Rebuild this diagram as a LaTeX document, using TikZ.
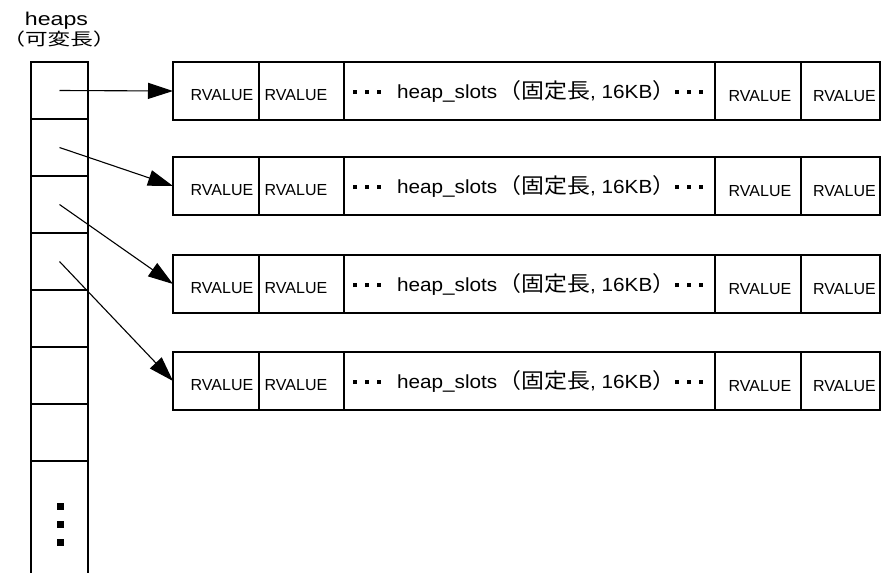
\documentclass[tikz,border=0pt]{standalone}
\usepackage{graphicx}
\usepackage{fontspec}
\setmainfont{Liberation Sans}
\newfontfamily\cjk{Noto Sans CJK JP}
\usetikzlibrary{arrows.meta}
\newcommand\sqdot{\rule[4.3pt]{3.8pt}{3.8pt}}
\newcommand\sqdots{\sqdot\hspace{7pt}\sqdot\hspace{7pt}\sqdot}
\begin{document}
\begin{tikzpicture}[x=1pt,y=-1pt, line width=1.1pt,
 cellbox/.style={draw, minimum width=57pt, minimum height=57pt, inner sep=0pt, outer sep=0pt},
 slot/.style={draw, minimum height=58pt, inner sep=0pt, outer sep=0pt},
 rv/.style={font=\fontsize{16}{16}\selectfont, inner sep=0pt, anchor=base},
 mid/.style={font=\fontsize{19}{19}\selectfont, inner sep=0pt, anchor=base},
 ttl/.style={font=\fontsize{18.5}{18.5}\selectfont, inner sep=0pt},
 ptr/.style={-{Triangle[length=25pt,width=16pt]}},
 dotsq/.style={fill=black}]
\useasboundingbox (0,0) rectangle (892,573);
% title
\node[ttl, anchor=base] (t1) at (56.5,25) {\resizebox{63pt}{\height}{heaps}};
\node[ttl] (t2) at (59,39.5) {\resizebox{113pt}{\height}{\cjk\fontsize{17}{17}\selectfont （可変長）}};
% heaps column
\draw (31,62) -- (31,573) (88,62) -- (88,573);
\foreach \k in {1,...,7}{
  \node[cellbox] (c\k) at (59.5,{33.5+57*\k}) {};
}
\fill[dotsq] (57,503) rectangle (64,510);
\fill[dotsq] (57,521) rectangle (64,528);
\fill[dotsq] (57,539) rectangle (64,546);
% rows
\foreach \i/\y in {1/91,2/186,3/284,4/381}{
  \node[slot, minimum width=86pt] (r\i a) at (216,\y) {};
  \node[slot, minimum width=85pt] (r\i b) at (301.5,\y) {};
  \node[slot, minimum width=371pt] (r\i c) at (529.5,\y) {};
  \node[slot, minimum width=86pt] (r\i d) at (758,\y) {};
  \node[slot, minimum width=79pt] (r\i e) at (840.5,\y) {};
  \node[rv] (r\i at) at (222,\y+9) {RVALUE};
  \node[rv] (r\i bt) at (296,\y+9) {RVALUE};
  \node[mid] (r\i ct) at (528,\y+7.5) {\resizebox{350pt}{\height}{\sqdots\hspace{15pt}heap\_slots\hspace{1pt}{\cjk\fontsize{21}{21}\selectfont （固定長}, 16KB{\cjk\fontsize{21}{21}\selectfont ）}\sqdots}};
  \node[rv] (r\i dt) at (760,\y+10) {RVALUE};
  \node[rv] (r\i et) at (844.5,\y+10) {RVALUE};
  \draw[ptr] (c\i.center) -- (r\i a.west);
}
\end{tikzpicture}
\end{document}
